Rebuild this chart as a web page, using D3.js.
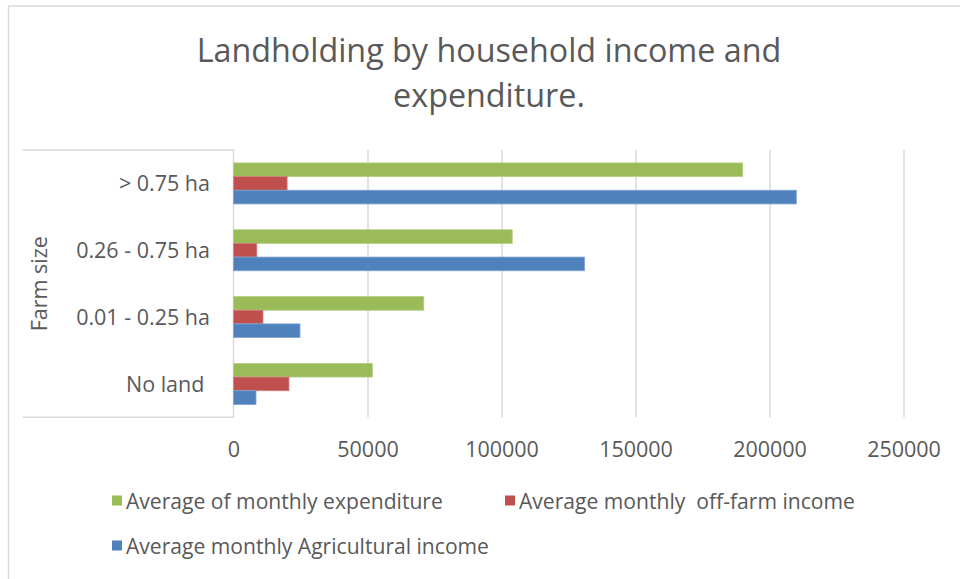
<!DOCTYPE html>
<html>
<head>
<meta charset="utf-8">
<script src="https://cdn.jsdelivr.net/npm/d3@7/dist/d3.min.js"></script>
<style>
  body { margin: 0; background: #fff; }
  svg text { font-family: "Open Sans", "Noto Sans", sans-serif; fill: #595959; white-space: pre; }
</style>
</head>
<body>
<svg id="chart" width="960" height="579"></svg>
<script>
// ---- data ----
const categories = ["> 0.75 ha", "0.26 - 0.75 ha", "0.01 - 0.25 ha", "No land "];
const seriesNames = [
  "Average of monthly expenditure",
  "Average monthly  off-farm income",
  "Average monthly Agricultural income"
];
const expenditure        = [190000, 104000, 71000, 51800];
const offFarmIncome      = [20000, 8700, 11000, 20700];
const agriculturalIncome = [210000, 131000, 24800, 8400];
const xTicks = [0, 50000, 100000, 150000, 200000, 250000];
const titleLines = ["Landholding by household income and", "expenditure."];
const axisTitle = "Farm size";

// ---- styling ----
const colors = ["#9BBB59", "#C0504D", "#4F81BD"];
const strokes = ["#b3cf86", "#d27f7c", "#7fa3d1"];
const gridColor = "#d9d9d9";

const svg = d3.select("#chart");
const W = 960, H = 579;

// outer frame (extends past the right / bottom edges)
svg.append("rect")
  .attr("x", 8.5).attr("y", 6)
  .attr("width", W).attr("height", H)
  .attr("fill", "#fff")
  .attr("stroke", gridColor).attr("stroke-width", 1.5);

const plot = { left: 233.5, right: 903.5, top: 150, bottom: 417.3 };

const x = d3.scaleLinear().domain([0, 250000]).range([plot.left, plot.right]);
const y = d3.scaleBand().domain(categories)
  .range([plot.top, plot.bottom])
  .paddingInner(0.386).paddingOuter(0.193);
const seriesValues = [expenditure, offFarmIncome, agriculturalIncome];
const ySub = d3.scaleBand().domain(d3.range(seriesValues.length)).range([0, y.bandwidth()]);

// title
const title = svg.append("text")
  .attr("text-anchor", "middle")
  .attr("font-size", 32.3);
title.selectAll("tspan").data(titleLines).join("tspan")
  .attr("x", 489)
  .attr("y", (d, i) => 62 + i * 45)
  .text(d => d);

// vertical gridlines
svg.append("g")
  .attr("transform", `translate(0,${plot.bottom})`)
  .call(d3.axisBottom(x).tickValues(xTicks.filter(v => v > 0))
    .tickSize(-(plot.bottom - plot.top)).tickFormat(""))
  .call(g => g.select(".domain").remove())
  .call(g => g.selectAll(".tick line").attr("stroke", gridColor).attr("stroke-width", 1.5));

// category label frame
const frame = svg.append("g").attr("stroke", gridColor).attr("stroke-width", 1.5).attr("fill", "none");
frame.append("path")
  .attr("d", `M22.7,${plot.top}H${plot.left}V${plot.bottom}H22.7`);

// bars
const groups = svg.append("g").selectAll("g")
  .data(categories).join("g")
  .attr("transform", d => `translate(0,${y(d)})`);
groups.selectAll("rect")
  .data((c, ci) => seriesValues.map((vals, si) => ({ si, v: vals[ci] })))
  .join("rect")
  .attr("x", x(0))
  .attr("y", d => ySub(d.si))
  .attr("width", d => x(d.v) - x(0))
  .attr("height", ySub.bandwidth())
  .attr("fill", d => colors[d.si])
  .attr("stroke", d => strokes[d.si])
  .attr("stroke-width", 0.8);

// x tick labels
svg.append("g")
  .attr("transform", `translate(0,${plot.bottom})`)
  .call(d3.axisBottom(x).tickValues(xTicks).tickSize(0).tickPadding(0).tickFormat(d3.format("d")))
  .call(g => g.select(".domain").remove())
  .call(g => g.selectAll(".tick text")
    .attr("y", 39.5).attr("dy", 0)
    .attr("font-size", 21.5)
    .attr("font-family", null)
    .attr("fill", null));

// category labels
svg.append("g")
  .attr("transform", `translate(${plot.left},0)`)
  .call(d3.axisLeft(y).tickSize(0).tickPadding(23.5))
  .call(g => g.select(".domain").remove())
  .call(g => g.selectAll(".tick text")
    .attr("font-size", 21.5)
    .attr("dy", "0.36em")
    .attr("font-family", null)
    .attr("fill", null));

// axis title
svg.append("text")
  .attr("transform", `translate(47,${(plot.top + plot.bottom) / 2}) rotate(-90)`)
  .attr("text-anchor", "middle")
  .attr("font-size", 21.5)
  .text(axisTitle);

// legend
const legendPos = [[112, 501], [505, 501], [112, 546]];
const legend = svg.append("g").selectAll("g")
  .data(seriesNames).join("g")
  .attr("transform", (d, i) => `translate(${legendPos[i][0]},${legendPos[i][1]})`);
legend.append("rect")
  .attr("x", 0).attr("y", -5.5)
  .attr("width", 10).attr("height", 10)
  .attr("fill", (d, i) => colors[i]);
legend.append("text")
  .attr("x", 14).attr("dy", "0.36em")
  .attr("font-size", 21.1)
  .text(d => d);
</script>
</body>
</html>
